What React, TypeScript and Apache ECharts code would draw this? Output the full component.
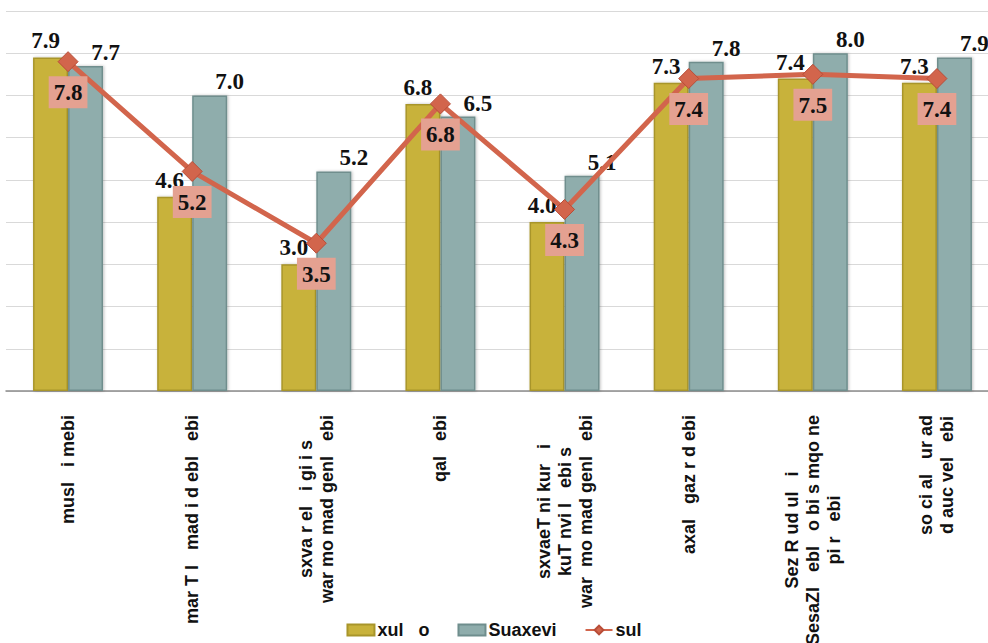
import React, { useEffect, useRef } from "react";
import * as echarts from "echarts";

const categories: string[] = [
  "musl   i mebi",
  "mar T l   mad i d ebl   ebi",
  "sxva r el   i gi i s\nwar mo mad genl   ebi",
  "qal   ebi",
  "sxvaeT ni kur   i\nkuT nvi l   ebi s\nwar  mo mad genl   ebi",
  "axal   gaz r d ebi",
  "Sez R ud ul   i\nSesaZl   ebl   o bi s mqo ne\npi r   ebi",
  "so ci al   ur ad\nd auc vel   ebi",
];

const seriesNames: string[] = ["xul   o", "Suaxevi", "sul"];
const xulValues: number[] = [7.9, 4.6, 3.0, 6.8, 4.0, 7.3, 7.4, 7.3];
const suaxeviValues: number[] = [7.7, 7.0, 5.2, 6.5, 5.1, 7.8, 8.0, 7.9];
const sulValues: number[] = [7.8, 5.2, 3.5, 6.8, 4.3, 7.4, 7.5, 7.4];

const yMin = 0;
const yMax = 9;
const yInterval = 1;

const serifLabel = {
  fontFamily: "'Liberation Serif', 'DejaVu Serif', serif",
  fontWeight: "bold" as const,
  fontSize: 23,
  color: "#111111",
};

export default function App() {
  const ref = useRef<HTMLDivElement>(null);

  useEffect(() => {
    if (!ref.current) return;
    const chart = echarts.init(ref.current, undefined, { renderer: "svg" });
    const fmt = (v: number) => v.toFixed(1);
    chart.setOption({
      animation: false,
      backgroundColor: "#ffffff",
      grid: {
        left: 6,
        top: 11,
        width: 993,
        height: 380,
        containLabel: false,
        outerBoundsMode: "none",
      },
      legend: {
        top: 616,
        left: "center",
        itemWidth: 27,
        itemHeight: 11,
        itemGap: 28,
        textStyle: {
          fontFamily: "'Liberation Sans', Arial, sans-serif",
          fontWeight: "bold",
          fontSize: 18,
          color: "#111111",
          padding: [0, 0, 0, -2],
        },
        data: [
          { name: seriesNames[0], icon: "rect" },
          { name: seriesNames[1], icon: "rect" },
          { name: seriesNames[2] },
        ],
      },
      xAxis: {
        type: "category",
        data: categories,
        axisLine: { show: true, lineStyle: { color: "#8c8c8c", width: 1.5 } },
        axisTick: { show: false },
        axisLabel: {
          interval: 0,
          rotate: 90,
          margin: 24,
          formatter: (v: string) =>
            v
              .split("\n")
              .map((l) => "{c|" + l + "}")
              .join("\n"),
          rich: {
            c: {
              align: "center",
              fontFamily: "'Liberation Sans', Arial, sans-serif",
              fontWeight: "bold",
              fontSize: 18,
              lineHeight: 21,
              color: "#111111",
            },
          },
        },
      },
      yAxis: {
        type: "value",
        min: yMin,
        max: yMax,
        interval: yInterval,
        axisLabel: { show: false },
        axisLine: { show: false },
        axisTick: { show: false },
        splitLine: { show: true, lineStyle: { color: "#d9d9d9", width: 1 } },
      },
      series: [
        {
          name: seriesNames[0],
          type: "bar",
          data: xulValues,
          barWidth: 35,
          barGap: "0%",
          itemStyle: {
            color: "#c8b23b",
            borderColor: "#a8952a",
            borderWidth: 1.5,
            shadowBlur: 3,
            shadowColor: "rgba(0,0,0,0.25)",
            shadowOffsetX: 1,
          },
          label: {
            show: true,
            position: "top",
            distance: 5,
            offset: [-5, 0],
            formatter: (p: any) => fmt(p.value),
            ...serifLabel,
          },
        },
        {
          name: seriesNames[1],
          type: "bar",
          data: suaxeviValues,
          barWidth: 35,
          itemStyle: {
            color: "#8fadac",
            borderColor: "#6f8e8d",
            borderWidth: 1.5,
            shadowBlur: 3,
            shadowColor: "rgba(0,0,0,0.25)",
            shadowOffsetX: 1,
          },
          label: {
            show: true,
            position: "top",
            distance: 2,
            offset: [20, 0],
            formatter: (p: any) => fmt(p.value),
            ...serifLabel,
          },
        },
        {
          name: seriesNames[2],
          type: "line",
          data: sulValues,
          symbol: "diamond",
          symbolSize: 20,
          lineStyle: { color: "#d2654c", width: 5 },
          itemStyle: { color: "#d2654c", borderColor: "#b84d38", borderWidth: 1 },
          z: 5,
          label: {
            show: true,
            position: "bottom",
            distance: 4,
            backgroundColor: "#e4a191",
            padding: [5, 5, 4, 5],
            formatter: (p: any) => fmt(p.value),
            ...serifLabel,
          },
        },
      ],
    });
    return () => chart.dispose();
  }, []);

  return (
    <div
      ref={ref}
      style={{ position: "fixed", left: 0, top: 0, width: 988, height: 643 }}
    />
  );
}
